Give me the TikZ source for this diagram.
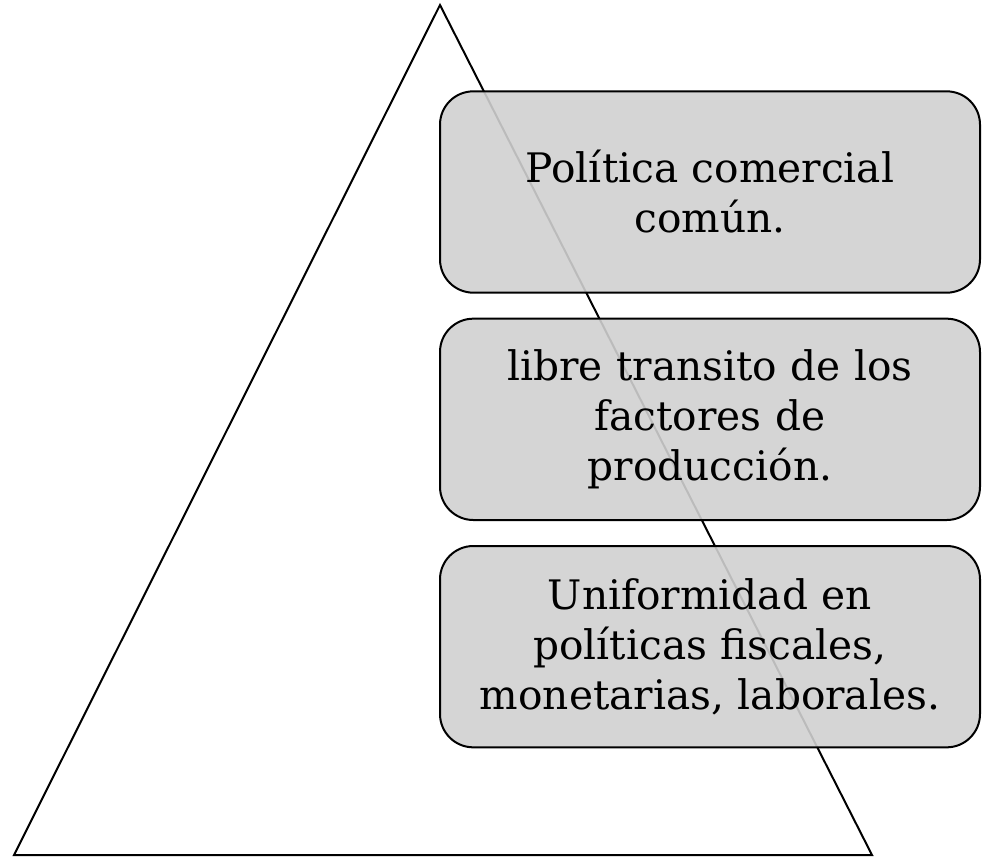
\documentclass[tikz,border=0pt]{standalone}
\usepackage{fontspec}
\setmainfont{DejaVu Serif}
\usetikzlibrary{positioning}

\begin{document}
\begin{tikzpicture}[x=0.75pt, y=-0.75pt,
					every node/.append style={inner sep=0pt},
					stepbox/.style={draw=black, line width=1.5pt, rounded corners=25pt,
						fill={rgb,255:red,208;green,208;blue,208}, fill opacity=0.9, text opacity=1,
						minimum width=405pt, minimum height=151pt, text width=400pt,
						align=center, font=\fontsize{30.5}{37.5}\selectfont}]
					\useasboundingbox (0,0) rectangle (982,857);
					% piramide
					\coordinate (top) at (440,5);
					\coordinate (baseL) at (14,855);
					\coordinate (baseR) at (872,855);
					\draw[line width=1.5pt, line join=miter] (top) -- (baseR) -- (baseL) -- cycle;
					% niveles
					\node [stepbox] (comercial) at (710,192) {Política comercial\\común.};
					\node [stepbox, below=18pt of comercial] (factores) {libre transito de los\\factores de\\producción.};
					\node [stepbox, below=18pt of factores] (politicas) {Uniformidad en\\políticas fiscales,\\monetarias, laborales.};
\end{tikzpicture}
\end{document}
